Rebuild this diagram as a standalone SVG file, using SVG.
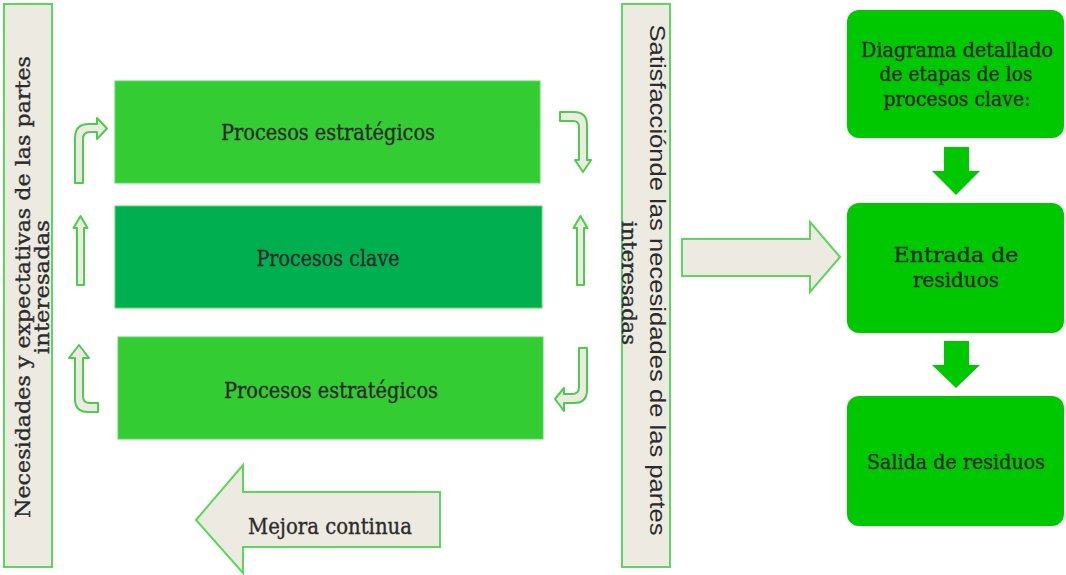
<svg xmlns="http://www.w3.org/2000/svg" width="1066" height="575" viewBox="0 0 1066 575">
<style>
.beige{fill:#edeae2;stroke:#5cd65c;stroke-width:2}
.proc{stroke:#5ed85e;stroke-width:1}
.lite{fill:#33cc33}
.dark{fill:#00b050}
.bright{fill:#00c800}
.t{font-family:"DejaVu Serif Condensed","DejaVu Serif","Liberation Serif",serif;fill:#2b2b2b;stroke:#2b2b2b;stroke-width:0.35;text-anchor:middle}
.s{font-family:"Liberation Sans",Arial,sans-serif;fill:#2b2b2b;text-anchor:middle}
.sa{fill:#edeae2;stroke:#4ccc4c;stroke-width:2;stroke-linejoin:round}
</style>
<rect width="1066" height="575" fill="#ffffff"/>
<g id="necesidades">
<rect class="beige" x="4" y="4" width="48" height="563"/>
<g transform="translate(30,287) rotate(-90)">
<text class="t" x="0" y="0" font-size="21" textLength="462" lengthAdjust="spacingAndGlyphs">Necesidades y expectativas de las partes</text>
<text class="t" x="0" y="19" font-size="21" textLength="134" lengthAdjust="spacingAndGlyphs">interesadas</text>
</g>
</g>
<g id="satisfaccion">
<rect class="beige" x="622" y="4" width="48" height="563"/>
<g transform="translate(650,280) rotate(90)">
<text class="s" x="0" y="0" font-size="22" textLength="511" lengthAdjust="spacingAndGlyphs">Satisfacciónde las necesidades de las partes</text>
</g>
<g transform="translate(622,283) rotate(90)">
<text class="t" x="0" y="0" font-size="20" textLength="124" lengthAdjust="spacingAndGlyphs">interesadas</text>
</g>
</g>
<g id="estrategicos1">
<rect class="proc lite" x="115" y="81" width="425" height="102"/>
<text class="t" x="328" y="140" font-size="23" textLength="214" lengthAdjust="spacingAndGlyphs">Procesos estratégicos</text>
</g>
<g id="clave">
<rect class="proc dark" x="115" y="206" width="427" height="102"/>
<text class="t" x="328" y="266" font-size="23" textLength="143" lengthAdjust="spacingAndGlyphs">Procesos clave</text>
</g>
<g id="estrategicos2">
<rect class="proc lite" x="118" y="337" width="425" height="102"/>
<text class="t" x="331" y="398" font-size="23" textLength="214" lengthAdjust="spacingAndGlyphs">Procesos estratégicos</text>
</g>
<g id="mejora">
<path class="beige" d="M196,520 L243,465 L243,492 L440,492 L440,547 L243,547 L243,573 Z"/>
<text class="t" x="330" y="534" font-size="23" textLength="164" lengthAdjust="spacingAndGlyphs">Mejora continua</text>
</g>
<g id="diagrama">
<rect class="bright" x="847" y="10" width="217" height="128" rx="12"/>
<text class="t" x="957" y="57" font-size="21" textLength="192" lengthAdjust="spacingAndGlyphs">Diagrama detallado</text>
<text class="t" x="956" y="81" font-size="21" textLength="153" lengthAdjust="spacingAndGlyphs">de etapas de los</text>
<text class="t" x="957" y="106" font-size="21" textLength="147" lengthAdjust="spacingAndGlyphs">procesos clave:</text>
</g>
<g id="entrada">
<rect class="bright" x="847" y="203" width="217" height="130" rx="12"/>
<text class="t" x="956" y="262" font-size="21" textLength="125" lengthAdjust="spacingAndGlyphs">Entrada de</text>
<text class="t" x="956" y="287" font-size="21" textLength="86" lengthAdjust="spacingAndGlyphs">residuos</text>
</g>
<g id="salida">
<rect class="bright" x="847" y="396" width="217" height="130" rx="12"/>
<text class="t" x="956" y="469" font-size="21" textLength="178" lengthAdjust="spacingAndGlyphs">Salida de residuos</text>
</g>
<g id="connectors">
<path class="sa" d="M75,183 L75,138 Q75,124 89,124 L97,124 L97,118 L107,128.5 L97,139 L97,132 L90,132 Q83,132 83,139 L83,183 Z"/>
<path class="sa" d="M77,285 L77,228 L73.5,228 L80.5,216 L87.5,228 L84,228 L84,285 Z"/>
<path class="sa" d="M98,412 L88,412 Q75,412 75,399 L75,358 L69,358 L79,345 L89,358 L83,358 L83,396 Q83,403 90,403 L98,403 Z"/>
<path class="sa" d="M560,112 L574,112 Q587,112 587,125 L587,160 L591,160 L583,172 L575,160 L579,160 L579,127 Q579,121 573,121 L560,121 Z"/>
<path class="sa" d="M577,285 L577,228 L573.5,228 L580.5,216 L587.5,228 L584,228 L584,285 Z"/>
<path class="sa" d="M587,348 L587,390 Q587,403 574,403 L564,403 L564,411 L555,399 L564,388 L564,394 L572,394 Q579,394 579,387 L579,348 Z"/>
<path class="beige" d="M682,239 L810,239 L810,222 L840,257 L810,292 L810,276 L682,276 Z"/>
<path class="bright" d="M944,147 L969,147 L969,171 L980,171 L956,195 L932,171 L944,171 Z"/>
<path class="bright" d="M944,341 L969,341 L969,365 L980,365 L956,388 L932,365 L944,365 Z"/>
</g>
</svg>
